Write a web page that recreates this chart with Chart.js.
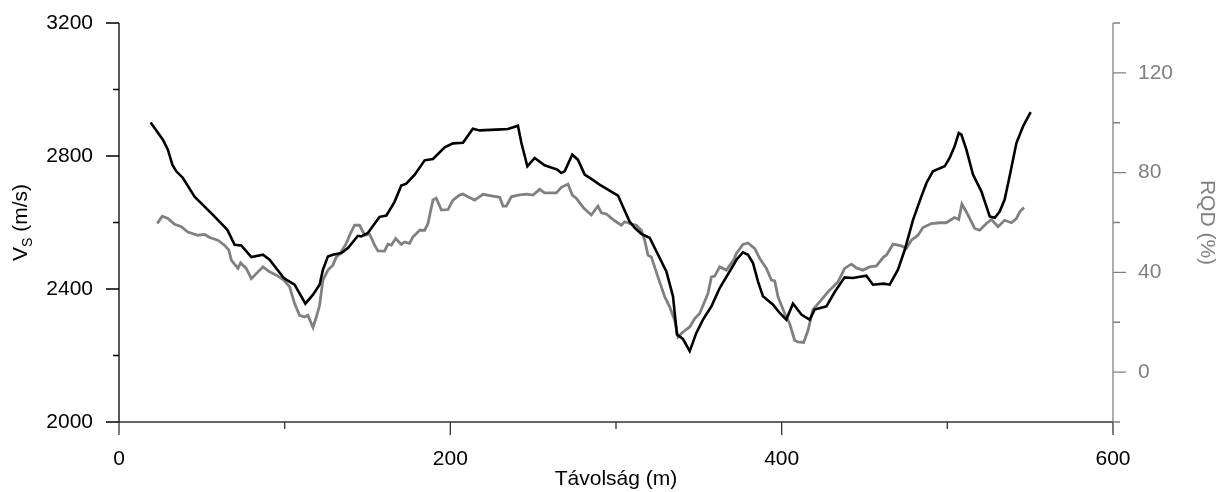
<!DOCTYPE html>
<html>
<head>
<meta charset="utf-8">
<script src="https://cdn.jsdelivr.net/npm/chart.js@4/dist/chart.umd.min.js"></script>
<style>
  html, body { margin: 0; padding: 0; background: #fff; }
  #Wrap { width: 1222px; height: 492px; position: relative; }
</style>
</head>
<body>
<div id="Wrap"><canvas id="Profile"></canvas></div>
<script>
// Vs profile (black, left axis)
const VsDistance = [19.1, 26.5, 29.5, 32.2, 34.6, 38.6, 45.6, 56.7, 65.4, 69.8, 73.8, 79.9, 86.9, 90.9, 99.5, 101.0, 106.0, 112.5, 117.1, 121.1,
  123.1, 126.1, 129.1, 134.2, 138.2, 144.2, 146.3, 150.3, 157.3, 161.4, 166.4, 170.4, 173.4, 178.5, 184.5, 189.5, 196.6, 201.6, 207.6, 213.6,
  217.7, 230.8, 234.8, 240.8, 242.9, 246.5, 250.9, 256.9, 264.6, 267.0, 269.0, 273.6, 277.0, 281.1, 285.1, 290.1, 301.2, 308.2, 311.3, 315.3,
  320.3, 330.4, 334.4, 336.8, 340.4, 344.5, 348.5, 352.5, 357.6, 362.6, 371.0, 372.7, 376.6, 379.7, 382.7, 385.7, 388.7, 394.8, 398.8, 402.8,
  406.8, 408.9, 411.9, 416.9, 419.9, 427.0, 432.0, 438.0, 443.0, 451.1, 455.1, 461.6, 465.2, 470.2, 474.3, 479.3, 484.3, 487.4, 491.3, 498.4,
  501.4, 504.4, 506.9, 508.5, 511.5, 515.5, 520.6, 525.6, 528.6, 531.6, 534.6, 537.6, 541.7, 545.7, 550.3];
const VsValues = [2901, 2849, 2819, 2774, 2754, 2734, 2678, 2623, 2578, 2533, 2531, 2496, 2503, 2488, 2433, 2428, 2413, 2356, 2383, 2413,
  2458, 2498, 2503, 2508, 2523, 2560, 2558, 2569, 2617, 2621, 2663, 2711, 2717, 2744, 2787, 2791, 2826, 2838, 2840, 2882,
  2877, 2880, 2881, 2891, 2839, 2769, 2794, 2772, 2759, 2749, 2754, 2804, 2789, 2744, 2731, 2714, 2681, 2603, 2584, 2566,
  2554, 2453, 2378, 2263, 2250, 2213, 2268, 2308, 2348, 2403, 2473, 2488, 2510, 2503, 2478, 2423, 2378, 2353, 2328, 2308,
  2356, 2343, 2323, 2308, 2338, 2348, 2391, 2435, 2433, 2440, 2413, 2416, 2413, 2458, 2518, 2608, 2678, 2719, 2754, 2769,
  2794, 2829, 2869, 2864, 2819, 2744, 2693, 2618, 2614, 2633, 2669, 2739, 2839, 2889, 2932];

// RQD profile (grey, right axis)
const RqdDistance = [23.1, 26.1, 29.5, 33.6, 37.6, 41.6, 47.6, 51.7, 54.7, 59.7, 63.7, 66.3, 67.8, 71.8, 73.4, 76.8, 79.9, 83.9, 86.9, 90.9,
  95.0, 99.5, 103.0, 106.0, 109.0, 112.0, 114.0, 117.1, 119.1, 121.1, 123.1, 126.1, 129.1, 131.2, 133.2, 137.2, 139.2, 142.2, 145.2, 148.3,
  151.3, 154.3, 156.3, 160.3, 162.3, 164.4, 167.0, 170.4, 172.4, 175.4, 177.4, 181.5, 184.5, 186.5, 189.5, 191.5, 194.6, 198.6, 201.6, 205.6,
  207.6, 210.6, 214.7, 219.7, 224.8, 229.8, 231.8, 233.8, 236.8, 240.8, 245.9, 249.9, 253.9, 256.9, 264.0, 267.0, 271.0, 273.6, 276.1, 280.5,
  285.1, 289.1, 291.2, 294.2, 299.2, 303.2, 305.2, 308.2, 312.3, 315.3, 317.3, 319.3, 321.3, 325.3, 329.4, 332.4, 335.4, 337.4, 340.4, 344.5,
  347.5, 350.5, 355.5, 357.6, 359.6, 362.6, 366.6, 371.0, 372.7, 376.6, 379.7, 383.7, 386.7, 390.8, 393.8, 395.8, 397.8, 401.8, 404.8, 407.8,
  409.8, 413.3, 415.9, 418.9, 422.9, 428.0, 434.0, 438.0, 442.1, 445.1, 449.1, 453.1, 457.2, 461.6, 463.2, 467.2, 472.3, 475.3, 478.3, 482.3,
  485.3, 490.4, 495.4, 499.4, 502.4, 504.4, 506.9, 508.8, 512.5, 516.5, 519.5, 523.6, 526.6, 530.6, 534.6, 538.7, 541.7, 543.7, 546.3];
const RqdValues = [59.6, 62.5, 61.6, 59.3, 58.3, 56.2, 54.9, 55.2, 54.0, 52.9, 50.9, 48.9, 44.9, 41.6, 43.8, 41.6, 37.5, 40.2, 42.2, 40.2,
  38.9, 36.9, 34.2, 27.5, 22.8, 22.1, 22.8, 17.9, 22.1, 26.8, 36.9, 40.9, 42.9, 46.2, 47.3, 51.6, 54.9, 58.9, 58.9, 54.9,
  55.3, 50.9, 48.6, 48.5, 51.3, 50.9, 53.6, 51.2, 52.2, 51.6, 54.2, 56.9, 56.9, 59.6, 69.0, 69.7, 65.0, 65.2, 69.0, 71.0,
  71.4, 70.3, 69.0, 71.3, 70.7, 70.1, 66.6, 66.6, 70.3, 71.0, 71.4, 71.0, 73.3, 71.9, 71.9, 74.1, 75.4, 71.0, 69.7, 65.8,
  63.0, 66.6, 63.9, 63.4, 60.7, 58.9, 60.3, 59.6, 58.9, 56.9, 52.9, 46.9, 46.2, 38.2, 30.2, 26.2, 20.8, 14.1, 16.1, 18.1,
  21.5, 23.5, 31.5, 38.2, 38.5, 42.2, 40.9, 44.9, 47.6, 51.2, 51.8, 49.6, 45.6, 41.6, 36.9, 36.6, 30.2, 23.5, 19.5, 12.8,
  12.1, 11.9, 16.8, 25.1, 28.2, 32.2, 36.2, 41.6, 43.3, 41.8, 40.9, 42.2, 42.6, 46.2, 46.9, 51.3, 50.6, 49.6, 52.9, 54.9,
  58.0, 59.6, 59.9, 59.9, 61.2, 62.0, 61.2, 67.4, 63.0, 57.6, 56.9, 59.6, 61.2, 58.3, 60.9, 59.9, 61.6, 64.3, 66.0];

// axis ranges and labelled ticks
const XRange = [0, 600];
const VsRange = [2000, 3200];
const RqdRange = [-20, 140];
const XLabelTicks = [0, 200, 400, 600];
const VsLabelTicks = [2000, 2400, 2800, 3200];
const RqdLabelTicks = [0, 40, 80, 120];

const Grey = "#808080";
const FontFamily = "'Liberation Sans', Arial, sans-serif";
Chart.defaults.font.family = FontFamily;
Chart.defaults.font.size = 21;
Chart.defaults.color = "#000";

function ToPoints(Xs, Ys) {
  return Xs.map((X, I) => ({ x: X, y: Ys[I] }));
}

// fixed box sizes so the plot area lands where the original one is
function FixWidth(Width) {
  return (S) => {
    S.width = Width;
    S.paddingTop = 0;
    S.paddingBottom = 0;
  };
}

// draws axis lines, long ticks on labelled values, short ticks between
const AxisPlugin = {
  id: "axisLines",
  afterDraw(Chart) {
    const Ctx = Chart.ctx;
    const { left, right, top, bottom } = Chart.chartArea;
    const X = Chart.scales.x, Y = Chart.scales.y, R = Chart.scales.rqd;
    Ctx.save();
    Ctx.lineWidth = 1.3;

    Ctx.strokeStyle = "#000";
    Ctx.beginPath();
    Ctx.moveTo(left, top); Ctx.lineTo(left, bottom);
    for (let V = VsRange[0]; V <= VsRange[1]; V += 200) {
      const P = Y.getPixelForValue(V);
      const L = VsLabelTicks.includes(V) ? 13 : 6;
      Ctx.moveTo(left - L, P); Ctx.lineTo(left, P);
    }
    Ctx.stroke();

    Ctx.strokeStyle = "#333";
    Ctx.beginPath();
    Ctx.moveTo(left, bottom); Ctx.lineTo(right, bottom);
    for (let V = XRange[0]; V <= XRange[1]; V += 100) {
      const P = X.getPixelForValue(V);
      const L = XLabelTicks.includes(V) ? 13 : 7;
      Ctx.moveTo(P, bottom); Ctx.lineTo(P, bottom + L);
    }
    Ctx.stroke();

    Ctx.strokeStyle = Grey;
    Ctx.beginPath();
    Ctx.moveTo(right, top); Ctx.lineTo(right, bottom);
    for (let V = RqdRange[0]; V <= RqdRange[1]; V += 20) {
      const P = R.getPixelForValue(V);
      const L = RqdLabelTicks.includes(V) ? 13 : 7;
      Ctx.moveTo(right, P); Ctx.lineTo(right + L, P);
    }
    Ctx.stroke();

    // left title with subscript S
    const Mid = (top + bottom) / 2;
    Ctx.translate(27, Mid);
    Ctx.rotate(-Math.PI / 2);
    Ctx.fillStyle = "#000";
    Ctx.textBaseline = "alphabetic";
    Ctx.textAlign = "left";
    Ctx.font = "21px " + FontFamily;
    const WV = Ctx.measureText("V").width;
    const WRest = Ctx.measureText(" (m/s)").width;
    Ctx.font = "14px " + FontFamily;
    const WS = Ctx.measureText("S").width;
    const Start = -(WV + WS + WRest) / 2;
    Ctx.font = "21px " + FontFamily;
    Ctx.fillText("V", Start, 0);
    Ctx.font = "14px " + FontFamily;
    Ctx.fillText("S", Start + WV, 5);
    Ctx.font = "21px " + FontFamily;
    Ctx.fillText(" (m/s)", Start + WV + WS, 0);
    Ctx.restore();
  }
};

const Config = {
  type: "line",
  data: {
    datasets: [
      {
        label: "Vs",
        data: ToPoints(VsDistance, VsValues),
        yAxisID: "y",
        borderColor: "#000",
        borderWidth: 2.6,
        pointRadius: 0,
        fill: false,
        order: 0,
      },
      {
        label: "RQD",
        data: ToPoints(RqdDistance, RqdValues),
        yAxisID: "rqd",
        borderColor: Grey,
        borderWidth: 2.8,
        pointRadius: 0,
        fill: false,
        order: 1,
      },
    ],
  },
  options: {
    responsive: true,
    maintainAspectRatio: false,
    animation: false,
    layout: { padding: { top: 23, left: 0, right: 0, bottom: 0 } },
    plugins: {
      legend: { display: false },
      tooltip: { enabled: false },
    },
    scales: {
      x: {
        type: "linear",
        min: XRange[0],
        max: XRange[1],
        grid: { display: false, drawTicks: false },
        border: { display: false },
        ticks: {
          stepSize: 100,
          autoSkip: false,
          maxRotation: 0,
          padding: 25,
          color: "#000",
          callback: (V) => (XLabelTicks.includes(V) ? String(V) : ""),
        },
        title: { display: true, text: "Távolság (m)", color: "#000", padding: { top: 0, bottom: 0 } },
        afterFit: (S) => { S.height = 70; },
      },
      y: {
        position: "left",
        min: VsRange[0],
        max: VsRange[1],
        grid: { display: false, drawTicks: false },
        border: { display: false },
        ticks: {
          stepSize: 200,
          autoSkip: false,
          padding: 26,
          color: "#000",
          callback: (V) => (VsLabelTicks.includes(V) ? String(V) : ""),
        },
        afterFit: FixWidth(119),
      },
      rqd: {
        position: "right",
        min: RqdRange[0],
        max: RqdRange[1],
        grid: { display: false, drawTicks: false },
        border: { display: false },
        ticks: {
          stepSize: 20,
          autoSkip: false,
          padding: 25,
          color: Grey,
          callback: (V) => (RqdLabelTicks.includes(V) ? String(V) : ""),
        },
        title: { display: true, text: "RQD (%)", color: Grey, padding: { top: 3, bottom: 0 } },
        afterFit: FixWidth(109),
      },
    },
  },
  plugins: [AxisPlugin],
};

new Chart(document.getElementById("Profile"), Config);
</script>
</body>
</html>
